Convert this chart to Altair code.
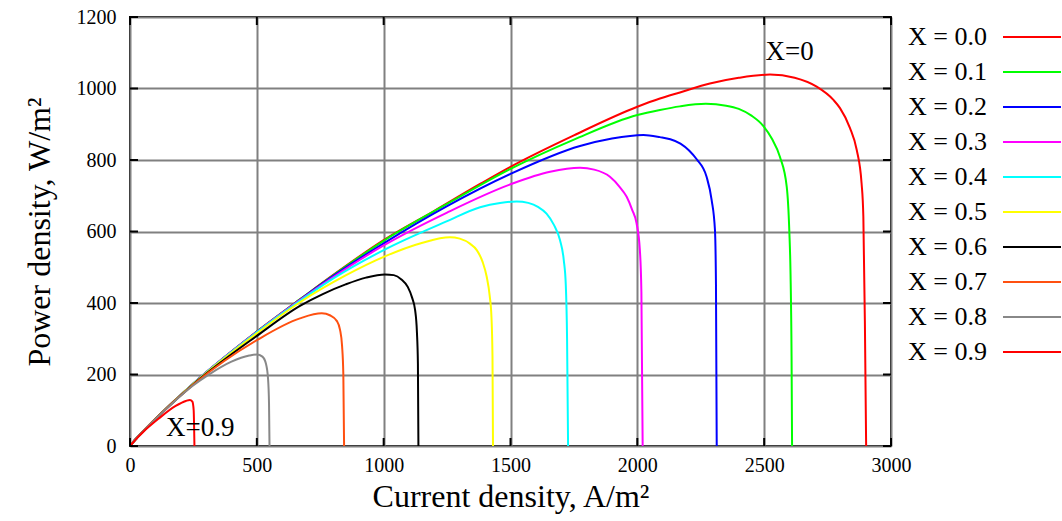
import altair as alt
import pandas as pd

# ---- data ----
series_names = ["X = 0.0", "X = 0.1", "X = 0.2", "X = 0.3", "X = 0.4",
                "X = 0.5", "X = 0.6", "X = 0.7", "X = 0.8", "X = 0.9"]
series_colors = ["#ff0000", "#00ff00", "#0000ff", "#ff00ff", "#00ffff",
                 "#ffff00", "#000000", "#ff5010", "#888888", "#ff0000"]

i_00 = [0, 25, 50, 112, 250, 500, 670, 800, 1000, 1200, 1380, 1500, 1750, 2000, 2089, 2168, 2286, 2400, 2523, 2620, 2707, 2773, 2799, 2838, 2865, 2884, 2891, 2897, 2902]
p_00 = [0, 21, 40, 84, 175, 320, 410, 478, 576, 658, 733, 781, 869, 949, 972, 989, 1014, 1030, 1039, 1030, 1005, 968, 945, 890, 828, 735, 641, 350, 0]

i_01 = [0, 25, 50, 112, 250, 500, 670, 800, 1000, 1250, 1500, 1750, 2000, 2089, 2168, 2270, 2350, 2400, 2450, 2497, 2530, 2562, 2589, 2599, 2604, 2608, 2610]
p_01 = [0, 21, 40, 84, 175, 320, 410, 477, 574, 677, 775, 857, 926, 940, 950, 957, 952, 943, 924, 895, 860, 809, 725, 604, 480, 250, 0]

i_02 = [0, 25, 50, 112, 250, 500, 670, 800, 1000, 1250, 1500, 1774, 1900, 2024, 2089, 2130, 2170, 2205, 2234, 2273, 2293, 2306, 2310, 2313]
p_02 = [0, 21, 40, 84, 175, 319, 409, 475, 567, 671, 761, 839, 860, 870, 864, 858, 846, 826, 802, 753, 688, 604, 450, 0]

i_03 = [0, 25, 50, 112, 250, 500, 670, 800, 1000, 1250, 1500, 1656, 1774, 1830, 1892, 1930, 1958, 1980, 1997, 2010, 2016, 2021]
p_03 = [0, 21, 40, 84, 175, 319, 408, 472, 561, 653, 732, 767, 778, 773, 753, 725, 697, 660, 623, 548, 430, 0]

i_04 = [0, 25, 50, 112, 250, 500, 670, 800, 1000, 1250, 1380, 1459, 1524, 1570, 1610, 1642, 1670, 1695, 1710, 1718, 1723, 1727]
p_04 = [0, 21, 40, 84, 175, 318, 406, 468, 548, 629, 668, 680, 684, 680, 668, 650, 620, 576, 520, 450, 300, 0]

i_05 = [0, 25, 50, 112, 250, 500, 670, 850, 1000, 1150, 1261, 1300, 1340, 1367, 1390, 1406, 1418, 1425, 1429, 1431]
p_05 = [0, 21, 40, 84, 174, 315, 402, 477, 529, 568, 584, 580, 566, 548, 515, 474, 420, 360, 250, 0]

i_06 = [0, 25, 50, 112, 250, 500, 670, 760, 850, 930, 1005, 1040, 1070, 1095, 1112, 1124, 1131, 1135, 1137]
p_06 = [0, 21, 40, 84, 173, 308, 392, 425, 452, 471, 480, 478, 466, 445, 415, 380, 320, 230, 0]

i_07 = [0, 25, 50, 112, 250, 500, 670, 756, 790, 815, 828, 836, 841, 844]
p_07 = [0, 21, 40, 84, 172, 296, 357, 371, 365, 350, 325, 280, 200, 0]

i_08 = [0, 25, 50, 112, 250, 309, 400, 470, 500, 522, 536, 544, 548, 550]
p_08 = [0, 21, 40, 83, 170, 199, 236, 253, 256, 250, 230, 190, 120, 0]

i_09 = [0, 25, 50, 112, 180, 220, 236, 246, 251, 254]
p_09 = [0, 20, 38, 76, 112, 126, 129, 124, 100, 0]

x_ticks = [0, 500, 1000, 1500, 2000, 2500, 3000]
y_ticks = [0, 200, 400, 600, 800, 1000, 1200]

ann_text = ["X=0", "X=0.9"]
ann_x = [2505, 142]
ann_y = [1102, 50]

# ---- build tables ----
all_i = [i_00, i_01, i_02, i_03, i_04, i_05, i_06, i_07, i_08, i_09]
all_p = [p_00, p_01, p_02, p_03, p_04, p_05, p_06, p_07, p_08, p_09]
rows = []
for name, xs_, ys_ in zip(series_names, all_i, all_p):
    for k, (a, b) in enumerate(zip(xs_, ys_)):
        rows.append({"series": name, "i": a, "p": b, "k": k})
df = pd.DataFrame(rows)
df_leg = pd.DataFrame({"series": series_names})
df_xt = pd.DataFrame({"v": x_ticks})
df_yt = pd.DataFrame({"v": y_ticks})
df_ann = pd.DataFrame({"t": ann_text, "i": ann_x, "p": ann_y})

FONT = "Liberation Serif"
W, H = 761, 429
xs = alt.Scale(domain=[0, 3000], nice=False)
ys = alt.Scale(domain=[0, 1200], nice=False)
cs = alt.Scale(domain=series_names, range=series_colors)

lines = alt.Chart(df).mark_line(strokeWidth=2, interpolate="monotone").encode(
    x=alt.X("i:Q", scale=xs, title="Current density, A/m²",
            axis=alt.Axis(values=x_ticks, format="d", grid=True, ticks=False, domain=False,
                          labelFlush=False, labelPadding=9, titlePadding=6)),
    y=alt.Y("p:Q", scale=ys, title="Power density, W/m²",
            axis=alt.Axis(values=y_ticks, format="d", grid=True, ticks=False, domain=False,
                          labelFlush=False, labelPadding=14, titlePadding=20)),
    color=alt.Color("series:N", scale=cs, legend=None),
    detail="series:N",
    order="k:Q",
)

xt_bot = alt.Chart(df_xt).mark_rule(color="black", strokeWidth=2).encode(
    x=alt.X("v:Q", scale=xs), y=alt.value(H), y2=alt.value(H - 8))
xt_top = alt.Chart(df_xt).mark_rule(color="black", strokeWidth=2).encode(
    x=alt.X("v:Q", scale=xs), y=alt.value(0), y2=alt.value(8))
yt_left = alt.Chart(df_yt).mark_rule(color="black", strokeWidth=2).encode(
    y=alt.Y("v:Q", scale=ys), x=alt.value(0), x2=alt.value(8))
yt_right = alt.Chart(df_yt).mark_rule(color="black", strokeWidth=2).encode(
    y=alt.Y("v:Q", scale=ys), x=alt.value(W), x2=alt.value(W - 8))

ann = alt.Chart(df_ann).mark_text(font=FONT, fontSize=27, align="left",
                                  baseline="middle", color="black").encode(
    x=alt.X("i:Q", scale=xs), y=alt.Y("p:Q", scale=ys), text="t:N")

main = alt.layer(lines, xt_bot, xt_top, yt_left, yt_right, ann)

leg_y = alt.Y("series:N", sort=series_names, axis=None,
              scale=alt.Scale(type="point", range=[20, 335], padding=0))
leg_text = alt.Chart(df_leg).mark_text(font=FONT, fontSize=26, align="left",
                                       baseline="middle", color="black").encode(
    y=leg_y, x=alt.value(778), text="series:N")
leg_line = alt.Chart(df_leg).mark_rule(strokeWidth=2).encode(
    y=leg_y, x=alt.value(873), x2=alt.value(931),
    color=alt.Color("series:N", scale=cs, legend=None))
legend = alt.layer(leg_text, leg_line)

chart = alt.layer(main, legend).resolve_scale(y="independent").properties(
    width=W, height=H,
    background="white",
    autosize=alt.AutoSizeParams(type="none"),
    padding={"left": 130, "top": 17, "right": 171, "bottom": 75},
).configure_view(stroke="black", strokeWidth=2).configure_axis(
    labelFont=FONT, titleFont=FONT, labelFontSize=20, titleFontSize=32,
    labelColor="black", titleColor="black", titleFontWeight="normal",
    gridColor="#808080", gridWidth=2, gridOpacity=1,
)

chart.save("out.html", embed_options={"renderer": "svg", "actions": False})
